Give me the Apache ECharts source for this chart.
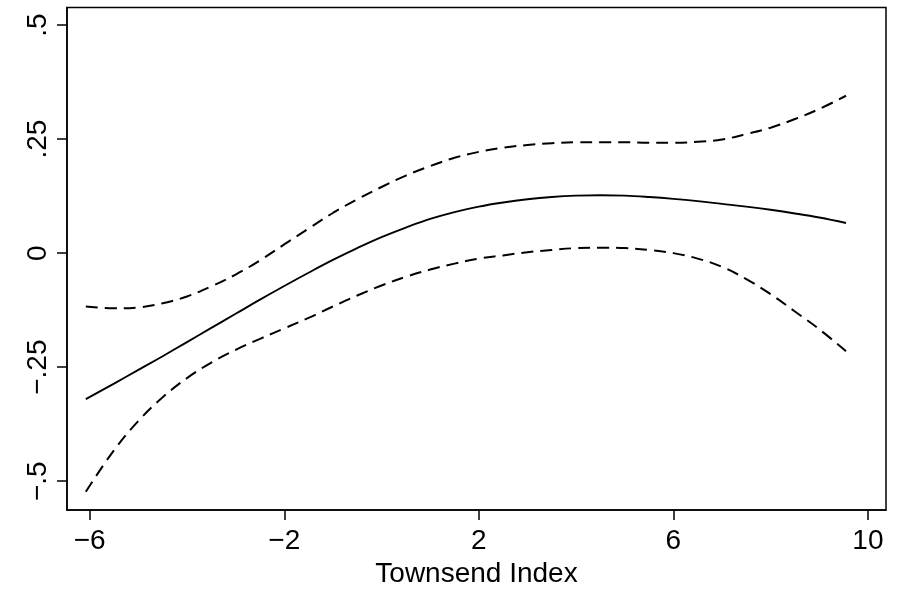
<!DOCTYPE html>
<html>
<head>
<meta charset="utf-8">
<title>Townsend Index</title>
<script src="https://cdn.jsdelivr.net/npm/echarts@6/dist/echarts.min.js"></script>
<style>
  html, body { margin: 0; padding: 0; background: #ffffff; }
  #chart { width: 899px; height: 593px; }
</style>
</head>
<body>
<div id="chart"></div>
<script>
// Townsend Index values at which the fitted curve and its bounds are evaluated
const townsend = [-6.08, -5.5, -5, -4.5, -4, -3.5, -3, -2.5, -2, -1.5, -1, -0.5, 0, 0.5, 1, 1.5,
  2, 2.5, 3, 3.5, 4, 4.5, 5, 5.5, 6, 6.5, 7, 7.5, 8, 8.5, 9, 9.55];

// Fitted effect (solid line)
const fitted = [-0.320, -0.286, -0.256, -0.226, -0.195, -0.164, -0.133, -0.102, -0.072, -0.043, -0.015, 0.011,
  0.035, 0.056, 0.075, 0.090, 0.102, 0.111, 0.118, 0.123, 0.126, 0.127, 0.126, 0.123, 0.119, 0.114,
  0.108, 0.102, 0.095, 0.087, 0.078, 0.066];

// Upper confidence bound (dashed)
const upper = [-0.117, -0.121, -0.119, -0.110, -0.095, -0.073, -0.047, -0.016, 0.019, 0.054, 0.088, 0.118,
  0.145, 0.170, 0.191, 0.209, 0.222, 0.231, 0.237, 0.241, 0.243, 0.243, 0.243, 0.242, 0.242, 0.244,
  0.249, 0.261, 0.275, 0.294, 0.316, 0.345];

// Lower confidence bound (dashed)
const lower = [-0.523, -0.432, -0.368, -0.316, -0.274, -0.240, -0.212, -0.188, -0.165, -0.142, -0.117, -0.093,
  -0.071, -0.052, -0.036, -0.023, -0.012, -0.005, 0.002, 0.007, 0.011, 0.012, 0.011, 0.007, 0.000, -0.012,
  -0.030, -0.057, -0.090, -0.128, -0.167, -0.215];

// Axis ticks and their labels
const xTickValues = [-6, -2, 2, 6, 10];
const xTickLabels = ['\u22126', '\u22122', '2', '6', '10'];
const yTickValues = [-0.5, -0.25, 0, 0.25, 0.5];
const yTickLabels = ['\u2212.5', '\u2212.25', '0', '.25', '.5'];

const xTitle = 'Townsend Index';

const pairs = (ys) => townsend.map((x, i) => [x, ys[i]]);
const labelFor = (values, labels) => (v) => {
  const i = values.findIndex((t) => Math.abs(t - v) < 1e-9);
  return i >= 0 ? labels[i] : '';
};

const FONT = 'Liberation Sans, Arial, Helvetica, sans-serif';

const chart = echarts.init(document.getElementById('chart'), null, { renderer: 'canvas' });

const lineSeries = (name, ys, dashed) => ({
  name: name,
  type: 'line',
  data: pairs(ys),
  showSymbol: false,
  smooth: 0.4,
  silent: true,
  animation: false,
  lineStyle: {
    color: '#000000',
    width: dashed ? 2 : 1.9,
    type: dashed ? [12, 7] : 'solid'
  }
});

chart.setOption({
  animation: false,
  backgroundColor: '#ffffff',
  grid: {
    left: 67,
    right: 13,
    top: 7.5,
    bottom: 76,
    show: true,
    borderColor: '#000000',
    borderWidth: 1.5,
    backgroundColor: '#ffffff'
  },
  xAxis: {
    type: 'value',
    min: -6.467,
    max: 10.372,
    name: xTitle,
    nameLocation: 'middle',
    nameGap: 47,
    nameTextStyle: { color: '#000000', fontSize: 28, fontFamily: FONT },
    axisLine: { show: true, onZero: false, lineStyle: { color: '#000000', width: 1.5 } },
    axisTick: { show: true, inside: false, length: 10, customValues: xTickValues,
      lineStyle: { color: '#000000', width: 1.5 } },
    axisLabel: { show: true, customValues: xTickValues, margin: 17, color: '#000000',
      fontSize: 28, fontFamily: FONT, formatter: labelFor(xTickValues, xTickLabels) },
    splitLine: { show: false }
  },
  yAxis: {
    type: 'value',
    min: -0.5634,
    max: 0.5385,
    axisLine: { show: true, onZero: false, lineStyle: { color: '#000000', width: 1.5 } },
    axisTick: { show: true, inside: false, length: 10, customValues: yTickValues,
      lineStyle: { color: '#000000', width: 1.5 } },
    axisLabel: { show: true, customValues: yTickValues, rotate: 90, margin: 15,
      align: 'center', verticalAlign: 'bottom', color: '#000000',
      fontSize: 28, fontFamily: FONT, formatter: labelFor(yTickValues, yTickLabels) },
    splitLine: { show: false }
  },
  series: [
    lineSeries('upper', upper, true),
    lineSeries('lower', lower, true),
    lineSeries('fitted', fitted, false)
  ]
});
</script>
</body>
</html>
